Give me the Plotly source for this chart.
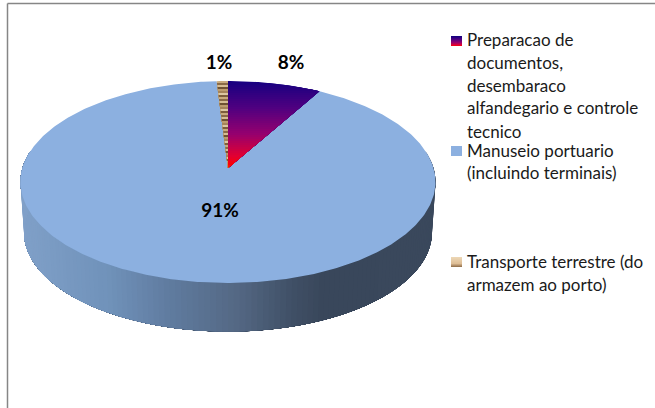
import numpy as np
import plotly.graph_objects as go

categories = ["Preparacao de documentos, desembaraco alfandegario e controle tecnico",
              "Manuseio portuario (incluindo terminais)",
              "Transporte terrestre (do armazem ao porto)"]
shares = [8.3, 90.7, 1.0]
legend_lines = [["Preparacao de", "documentos,", "desembaraco", "alfandegario e controle", "tecnico"],
                ["Manuseio portuario", "(incluindo terminais)"],
                ["Transporte terrestre (do", "armazem ao porto)"]]

W, H = 655, 408
CX, CY = 228.0, 168.0
A, B, K = 205.5, 99.06, 0.1386
DEPTH, BOTTOM_SCALE = 50.5, 0.983
FONT = "Lato, Carlito, Calibri, sans-serif"


def project(theta, scale=1.0, dy=0.0):
    x, y = np.sin(theta), np.cos(theta)
    w = 1 + K * y
    return CX + scale * A * x / w, CY + dy - scale * B * y / w


def lerp_color(stops, t):
    xs = [s[0] for s in stops]
    return "rgb(%d,%d,%d)" % tuple(
        int(round(np.interp(t, xs, [s[1][i] for s in stops]))) for i in range(3))


def clip_y(pts, y0, y1):
    """Keep the part of a polygon that lies between two horizontal lines."""
    def cut(poly, inside, yb):
        out = []
        for i in range(len(poly)):
            p, q = poly[i], poly[(i + 1) % len(poly)]
            ip, iq = inside(p), inside(q)
            if ip:
                out.append(p)
            if ip != iq:
                f = (yb - p[1]) / (q[1] - p[1])
                out.append((p[0] + f * (q[0] - p[0]), yb))
        return out
    poly = cut(list(pts), lambda p: p[1] >= y0, y0)
    if poly:
        poly = cut(poly, lambda p: p[1] <= y1, y1)
    return poly


def poly_trace(xs, ys, color, name=None):
    xs, ys = list(xs), list(ys)
    return go.Scatter(x=xs + xs[:1], y=ys + ys[:1], mode="lines", fill="toself",
                      fillcolor=color, line=dict(color=color, width=0),
                      hoverinfo="skip", showlegend=False, name=name)


def wedge(t0, t1):
    th = np.linspace(t0, t1, max(3, int((t1 - t0) * 80)))
    x, y = project(th)
    return [(CX, CY)] + list(zip(x, y))


def striped(pts, color_of, step, name):
    """Painter's order: every band runs to the bottom and the next one covers it, so no seams."""
    ys = [p[1] for p in pts]
    lo, hi = min(ys), max(ys)
    out = []
    for k, y0 in enumerate(np.arange(lo, hi, step)):
        part = clip_y(pts, y0, hi + 1)
        if len(part) >= 3:
            t = (y0 - lo) / (hi - lo)
            out.append(poly_trace([p[0] for p in part], [p[1] for p in part], color_of(t, k), name))
    return out


GRAD = [(0, (24, 0, 128)), (0.3, (80, 0, 128)), (0.6, (150, 0, 110)),
        (0.85, (225, 0, 50)), (0.96, (255, 0, 0)), (1, (250, 120, 20))]
WOOD = ["#c9ab7e", "#8a6a46", "#d6bd94", "#6f5232", "#bd9c6e", "#a5845a", "#dcc7a2", "#7c5e3c"]
SIDE = [(21, (128, 160, 200)), (110, (112, 146, 186)), (170, (96, 124, 160)), (240, (84, 104, 132)),
        (295, (64, 80, 102)), (325, (57, 71, 91)), (436, (58, 72, 92))]

fig = go.Figure()

# side wall, painted from the right edge to the left edge
edges = np.radians(np.linspace(80, 280, 141))
end = np.radians(280)
for a in edges[:-1]:
    arc = np.linspace(a, end, 60)
    tx, ty = project(arc)
    bx, by = project(arc[::-1], BOTTOM_SCALE, DEPTH)
    fig.add_trace(poly_trace(np.r_[tx, bx], np.r_[ty, by],
                             lerp_color(SIDE, float(tx[0])), "lateral"))

# top face, clockwise from twelve o'clock
total = sum(shares)
ends = 2 * np.pi * np.cumsum(shares) / total
starts = np.r_[0, ends[:-1]]

p = wedge(starts[1], ends[1])
fig.add_trace(poly_trace([q[0] for q in p], [q[1] for q in p], "#8cb0e0", categories[1]))
for tr in striped(wedge(starts[0], ends[0]), lambda t, k: lerp_color(GRAD, t), 2, categories[0]):
    fig.add_trace(tr)
for tr in striped(wedge(starts[2], ends[2]), lambda t, k: WOOD[k % len(WOOD)], 2, categories[2]):
    fig.add_trace(tr)

# percent labels
mid_labels = [f"{round(s)}%" for s in shares]
label_xy = [(291, 64), (220, 212), (219, 64)]
fig.add_trace(go.Scatter(x=[q[0] for q in label_xy], y=[q[1] for q in label_xy], text=mid_labels,
                         mode="text", textposition="middle center", hoverinfo="skip", showlegend=False,
                         textfont=dict(family=FONT, size=19, color="#000000", weight="bold")))

# legend
line_y = [[42, 65, 88, 110, 134], [153, 175], [264, 287]]
swatch_y = [41, 151, 262]
for lines, ys in zip(legend_lines, line_y):
    fig.add_trace(go.Scatter(x=[467] * len(lines), y=ys, text=lines, mode="text",
                             textposition="middle right", hoverinfo="skip", showlegend=False,
                             textfont=dict(family=FONT, size=17, color="#1a1a1a")))

sw_x = [451, 462, 462, 451]
for i, yc in enumerate(swatch_y):
    box = [(sw_x[j], yc + (-5 if j < 2 else 5)) for j in range(4)]
    if i == 1:
        fig.add_trace(poly_trace([q[0] for q in box], [q[1] for q in box], "#8cb0e0"))
    else:
        fn = (lambda t, k: lerp_color(GRAD, t)) if i == 0 else (
            lambda t, k: lerp_color([(0, (236, 214, 180)), (0.6, (222, 190, 150)), (1, (130, 95, 60))], t))
        for tr in striped(box, fn, 1, None):
            fig.add_trace(tr)

frame = dict(color="#868686", width=1.5)
fig.update_layout(
    width=W, height=H, margin=dict(l=0, r=0, t=0, b=0),
    paper_bgcolor="white", plot_bgcolor="white", showlegend=False,
    xaxis=dict(range=[0, W], visible=False, fixedrange=True),
    yaxis=dict(range=[H, 0], visible=False, fixedrange=True),
    shapes=[dict(type="line", x0=7.5, x1=7.5, y0=3.5, y1=H, line=frame),
            dict(type="line", x0=7.5, x1=W, y0=3.5, y1=3.5, line=frame)],
)
fig.write_html("out.html", config=dict(displayModeBar=False),
               post_script="document.body.style.margin='0';document.documentElement.style.overflow='hidden';")
